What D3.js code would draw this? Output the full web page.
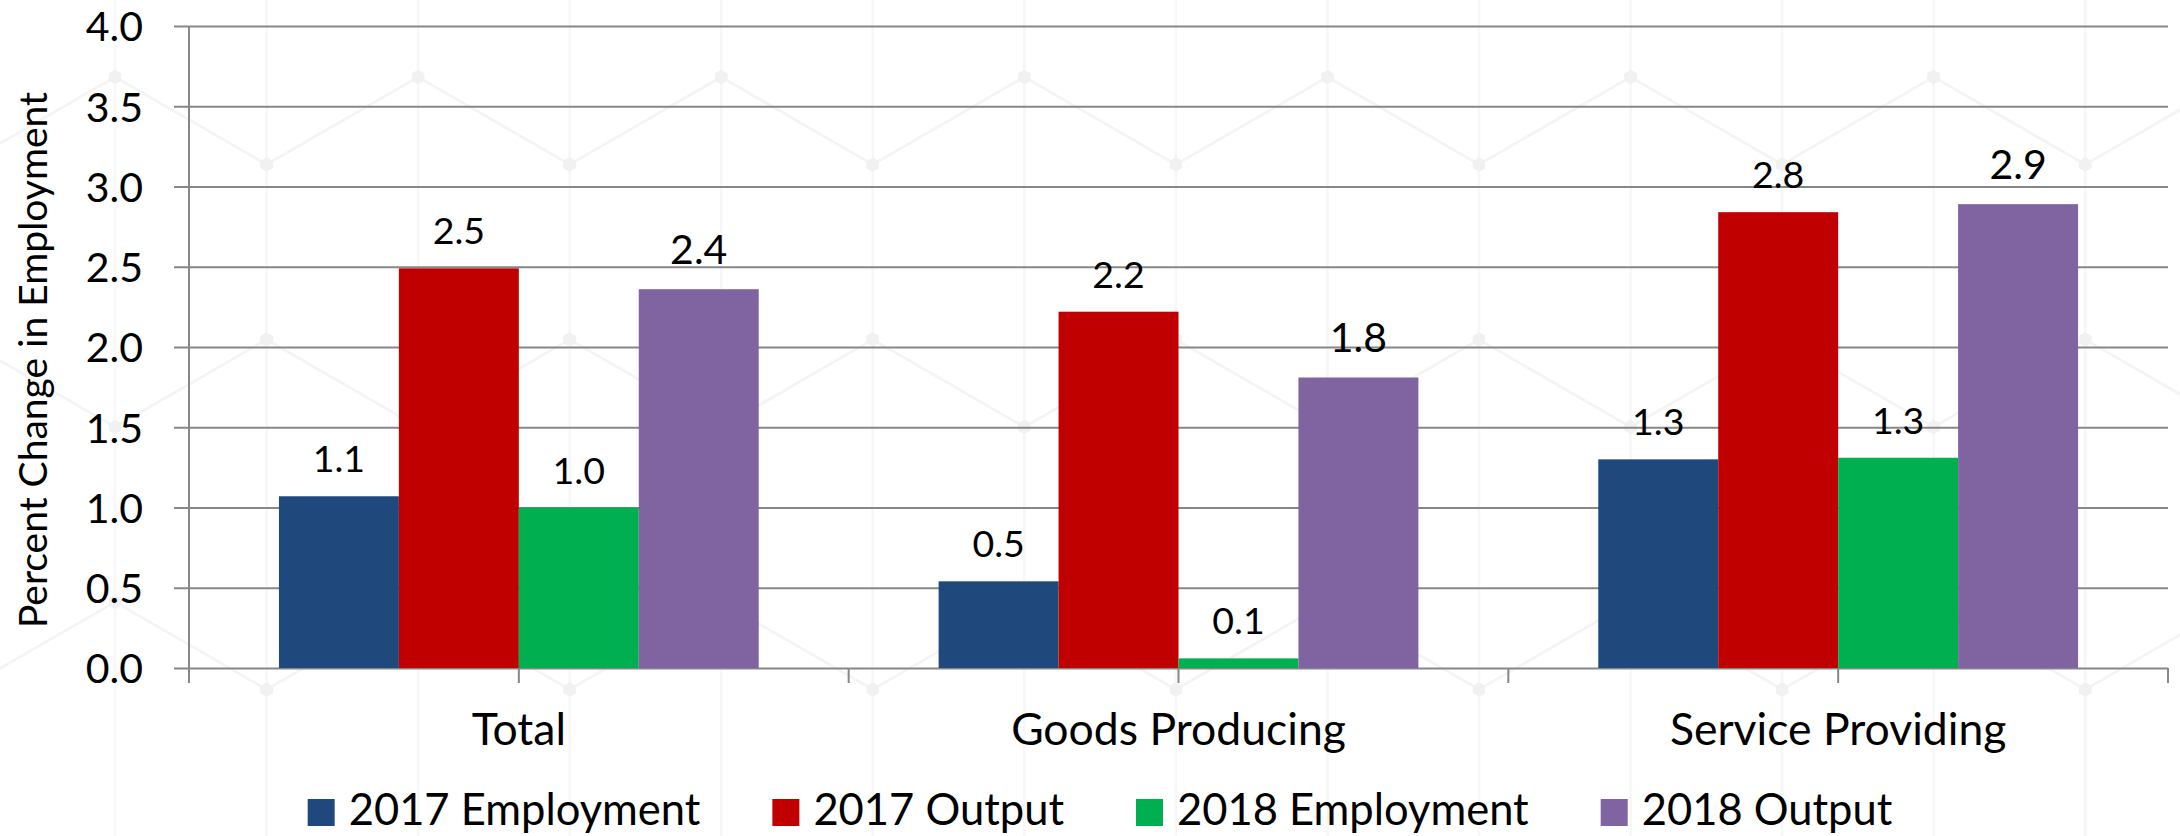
<!DOCTYPE html>
<html><head><meta charset="utf-8">
<script src="https://cdn.jsdelivr.net/npm/d3@7"></script>
<style>html,body{margin:0;padding:0;background:#fff;} svg{display:block;} text{font-family:Lato,"Open Sans",sans-serif;fill:#000;}</style>
</head><body><svg id="chart" width="2180" height="836"></svg>
<script>
// ---- data ----
const categories = ["Total", "Goods Producing", "Service Providing"];
const seriesNames = ["2017 Employment", "2017 Output", "2018 Employment", "2018 Output"];
const emp2017 = [1.07, 0.54, 1.30];
const out2017 = [2.49, 2.22, 2.84];
const emp2018 = [1.00, 0.06, 1.31];
const out2018 = [2.36, 1.81, 2.89];
const yTicks = [0, 0.5, 1.0, 1.5, 2.0, 2.5, 3.0, 3.5, 4.0];
const yTitle = "Percent Change in Employment";
const colors = ["#1F497D", "#C00000", "#00B050", "#8064A2"];

const seriesValues = [emp2017, out2017, emp2018, out2018];

// ---- layout ----
const W = 2180, H = 836;
const plot = {left: 189, right: 2168, top: 26, bottom: 668};
const svg = d3.select("#chart");

// ---- faint background hex lattice (decoration) ----
const bg = svg.append("g");
const s = 175, hw = Math.sqrt(3) * s;
for (let k = -2; k < 20; k++) {
  const xv = 115 + k * hw / 2;
  bg.append("line").attr("x1", xv).attr("x2", xv).attr("y1", 0).attr("y2", H)
    .attr("stroke", "#f7f7f7").attr("stroke-width", 2.5);
}
const verts = [];
for (let r = -2; r < 6; r++) {
  for (let c = -2; c < 10; c++) {
    const cx = 115 + c * hw + (Math.abs(r) % 2 === 1 ? hw / 2 : 0);
    const cy = 252 + r * 1.5 * s;
    const v = [[0, -s], [hw / 2, -s / 2], [hw / 2, s / 2], [0, s], [-hw / 2, s / 2], [-hw / 2, -s / 2]]
      .map(p => [cx + p[0], cy + p[1]]);
    const diag = [[0, 1], [3, 2], [3, 4], [0, 5]];
    diag.forEach(([a, b]) => {
      bg.append("line").attr("x1", v[a][0]).attr("y1", v[a][1]).attr("x2", v[b][0]).attr("y2", v[b][1])
        .attr("stroke", "#f4f4f4").attr("stroke-width", 2.5);
    });
    v.forEach(p => verts.push(p));
  }
}
verts.forEach(p => {
  const r = 7;
  const pts = d3.range(6).map(i => {
    const a = Math.PI / 3 * i + Math.PI / 6;
    return [p[0] + r * Math.cos(a), p[1] + r * Math.sin(a)].join(",");
  }).join(" ");
  bg.append("polygon").attr("points", pts).attr("fill", "#f1f1f1");
});

// ---- scales ----
const x0 = d3.scaleBand().domain(categories).range([plot.left, plot.right]).paddingInner(0).paddingOuter(0);
const x1 = d3.scaleBand().domain(seriesNames).range([0, x0.bandwidth()]).paddingInner(0).paddingOuter(0.75);
const y = d3.scaleLinear().domain([0, 4]).range([plot.bottom, plot.top]);

const gridColor = "#878787";

// gridlines + y ticks (via axis)
const yAxis = d3.axisLeft(y).tickValues(yTicks).tickFormat(d3.format(".1f"))
  .tickSizeInner(-(plot.right - plot.left)).tickSizeOuter(0).tickPadding(46);
const gy = svg.append("g").attr("transform", `translate(${plot.left},0)`).call(yAxis);
gy.select(".domain").remove();
gy.selectAll(".tick line").attr("stroke", gridColor).attr("stroke-width", 2).attr("x1", -15);
gy.selectAll(".tick text").attr("font-size", 41).attr("font-family", "Lato").attr("fill", "#000")
  .attr("dy", "0.36em");

// y axis line
svg.append("line").attr("x1", plot.left).attr("x2", plot.left).attr("y1", plot.top).attr("y2", plot.bottom + 15)
  .attr("stroke", gridColor).attr("stroke-width", 2);

// x ticks at category boundaries and centres
const xTickPos = [];
categories.forEach(c => { xTickPos.push(x0(c)); xTickPos.push(x0(c) + x0.bandwidth() / 2); });
xTickPos.push(plot.right);
svg.append("g").selectAll("line").data(xTickPos).join("line")
  .attr("x1", d => d).attr("x2", d => d).attr("y1", plot.bottom).attr("y2", plot.bottom + 15)
  .attr("stroke", gridColor).attr("stroke-width", 2);

// ---- bars ----
const groups = svg.append("g").selectAll("g").data(categories).join("g")
  .attr("transform", c => `translate(${x0(c)},0)`);
groups.each(function(c, ci) {
  const g = d3.select(this);
  seriesNames.forEach((sn, si) => {
    const v = seriesValues[si][ci];
    g.append("rect").attr("x", x1(sn)).attr("width", x1.bandwidth())
      .attr("y", y(v)).attr("height", y(0) - y(v)).attr("fill", colors[si]);
  });
});
// data labels
groups.each(function(c, ci) {
  const g = d3.select(this);
  seriesNames.forEach((sn, si) => {
    const v = seriesValues[si][ci];
    g.append("text").attr("x", x1(sn) + x1.bandwidth() / 2).attr("y", y(v) - (si === 3 ? 25 : 24))
      .attr("text-anchor", "middle").attr("font-size", si === 3 ? 41 : 37.5)
      .text(d3.format(".1f")(v));
  });
});

// category labels
svg.append("g").selectAll("text").data(categories).join("text")
  .attr("x", c => x0(c) + x0.bandwidth() / 2).attr("y", 745)
  .attr("text-anchor", "middle").attr("font-size", 44.5).text(c => c);

// y title
svg.append("text").attr("transform", "translate(47,360) rotate(-90)")
  .attr("text-anchor", "middle").attr("font-size", 39).text(yTitle);

// ---- legend ----
const legend = svg.append("g");
const sq = 27, gap = 14, itemGap = 72;
let lx = 0;
seriesNames.forEach((sn, i) => {
  const g = legend.append("g");
  g.append("rect").attr("x", 0).attr("y", 799).attr("width", sq).attr("height", sq).attr("fill", colors[i]);
  const t = g.append("text").attr("x", sq + gap).attr("y", 825).attr("font-size", 43.5).text(sn);
  const w = t.node().getComputedTextLength();
  g.attr("transform", `translate(${lx},0)`);
  lx += sq + gap + w + itemGap;
});
const totalW = lx - itemGap;
legend.attr("transform", `translate(${1100 - totalW / 2},0)`);
</script>
</body></html>
